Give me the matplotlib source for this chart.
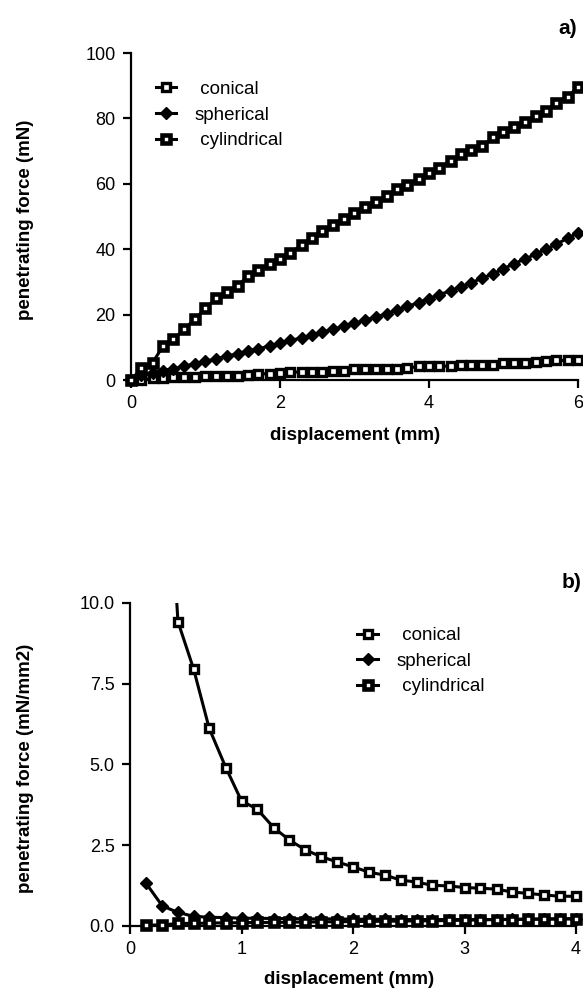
"""
Penetrating force vs displacement for three probe shapes.
a) force (mN), b) force per contact area (mN/mm2).

Output: out.png
"""
import matplotlib
matplotlib.use("Agg")
import matplotlib.pyplot as plt
from matplotlib.lines import Line2D
from matplotlib.ticker import FormatStrFormatter
import numpy as np

plt.rcParams["font.family"] = ["Liberation Sans", "DejaVu Sans"]

# a) penetrating force (mN)
disp_a = [0.00, 0.14, 0.29, 0.43, 0.57, 0.71, 0.86, 1.00, 1.14, 1.29, 1.43,
          1.57, 1.71, 1.86, 2.00, 2.14, 2.29, 2.43, 2.57, 2.71, 2.86, 3.00,
          3.14, 3.29, 3.43, 3.57, 3.71, 3.86, 4.00, 4.14, 4.29, 4.43, 4.57,
          4.71, 4.86, 5.00, 5.14, 5.29, 5.43, 5.57, 5.71, 5.86, 6.00]
conical_a = [0.0, 0.0, 0.6, 0.6, 0.8, 0.8, 1.0, 1.1, 1.2, 1.2, 1.3, 1.6, 1.8,
             2.0, 2.1, 2.4, 2.5, 2.6, 2.6, 2.7, 2.8, 3.3, 3.4, 3.4, 3.5, 3.4,
             3.6, 4.2, 4.2, 4.3, 4.2, 4.5, 4.6, 4.5, 4.7, 5.2, 5.3, 5.3, 5.4,
             5.8, 6.0, 6.0, 6.1]
spherical_a = [0.0, 1.6, 2.3, 2.9, 3.5, 4.2, 5.0, 5.7, 6.5, 7.3, 8.1, 8.9,
               9.6, 10.4, 11.2, 12.1, 12.9, 13.8, 14.7, 15.6, 16.4, 17.3,
               18.3, 19.3, 20.3, 21.4, 22.5, 23.7, 24.9, 26.1, 27.3, 28.5,
               29.8, 31.1, 32.5, 34.0, 35.6, 37.0, 38.5, 40.0, 41.6, 43.3, 45.0]
cylindrical_a = [0.0, 3.6, 5.3, 10.4, 12.4, 15.5, 18.7, 21.9, 25.0, 26.8,
                 28.8, 31.8, 33.6, 35.4, 37.0, 39.0, 41.2, 43.3, 45.6, 47.3,
                 49.3, 51.2, 52.9, 54.5, 56.3, 58.5, 59.7, 61.6, 63.3, 64.8,
                 67.0, 69.0, 70.3, 71.6, 74.2, 75.8, 77.4, 79.0, 80.6, 82.2,
                 84.8, 86.7, 89.5]

# b) penetrating force per area (mN/mm2)
disp_b = [0.14, 0.29, 0.43, 0.57, 0.71, 0.86, 1.00, 1.14, 1.29, 1.43, 1.57,
          1.71, 1.86, 2.00, 2.14, 2.29, 2.43, 2.57, 2.71, 2.86, 3.00, 3.14,
          3.29, 3.43, 3.57, 3.71, 3.86, 4.00]
conical_b = [35.0, 17.3, 9.42, 7.96, 6.12, 4.90, 3.87, 3.62, 3.04, 2.66, 2.36,
             2.15, 1.98, 1.83, 1.67, 1.57, 1.42, 1.36, 1.26, 1.24, 1.19, 1.17,
             1.14, 1.05, 1.01, 0.96, 0.92, 0.92]
spherical_b = [1.34, 0.62, 0.42, 0.30, 0.27, 0.26, 0.24, 0.24, 0.23, 0.23,
               0.22, 0.22, 0.22, 0.21, 0.21, 0.21, 0.20, 0.20, 0.20, 0.20,
               0.20, 0.20, 0.20, 0.21, 0.21, 0.21, 0.22, 0.22]
cylindrical_b = [0.03, 0.03, 0.08, 0.08, 0.09, 0.10, 0.10, 0.11, 0.11, 0.12,
                 0.12, 0.13, 0.13, 0.14, 0.14, 0.15, 0.15, 0.16, 0.16, 0.17,
                 0.18, 0.19, 0.20, 0.20, 0.21, 0.22, 0.22, 0.23]

labels = [" conical", "spherical", " cylindrical"]
xticks_a = [0, 2, 4, 6]
yticks_a = [0, 20, 40, 60, 80, 100]
xticks_b = [0, 1, 2, 3, 4]
yticks_b = [0.0, 2.5, 5.0, 7.5, 10.0]

STYLES = [
    dict(marker="s", ms=5.5, mfc="white", mec="black", mew=2.4),
    dict(marker="D", ms=6.5, mfc="black", mec="black", mew=1.0),
    dict(marker="s", ms=5.8, mfc="white", mec="black", mew=3.3),
]
LW = 2.2


def draw(ax, x, series, xlim, ylim, xticks, yticks):
    x = np.asarray(x)
    for y, st in zip(series, STYLES):
        y = np.asarray(y)
        ax.plot(x, y, color="black", lw=LW, zorder=2)
        keep = (y >= ylim[0]) & (y <= ylim[1])
        ax.plot(x[keep], y[keep], ls="none", clip_on=False, zorder=3, **st)
    ax.set_xlim(*xlim)
    ax.set_ylim(*ylim)
    ax.set_xticks(xticks)
    ax.set_yticks(yticks)
    for s in ("top", "right"):
        ax.spines[s].set_visible(False)
    for s in ("left", "bottom"):
        ax.spines[s].set_linewidth(1.6)
    ax.tick_params(direction="out", length=6, width=1.6, labelsize=13, pad=5)


def add_legend(ax, anchor):
    handles = [Line2D([], [], color="black", lw=LW, **st) for st in STYLES]
    ax.legend(handles, labels, loc="upper left", bbox_to_anchor=anchor,
              frameon=False, fontsize=13.5, handlelength=1.1,
              handletextpad=1.0, labelspacing=0.45, borderaxespad=0,
              borderpad=0)


fig = plt.figure(figsize=(5.83, 9.91), dpi=100)

ax1 = fig.add_axes([0.2247, 0.6165, 0.7667, 0.33])
draw(ax1, disp_a, [conical_a, spherical_a, cylindrical_a],
     (0, 6), (0, 100), xticks_a, yticks_a)
add_legend(ax1, (0.055, 0.915))

ax2 = fig.add_axes([0.223, 0.0656, 0.765, 0.326])
draw(ax2, disp_b, [conical_b, spherical_b, cylindrical_b],
     (0, 4), (0, 10), xticks_b, yticks_b)
ax2.yaxis.set_major_formatter(FormatStrFormatter("%.1f"))
add_legend(ax2, (0.51, 0.925))

W, H = 583, 991
bold = dict(fontweight="bold", fontsize=13.5, ha="center", va="center")
fig.text(25.5 / W, 1 - 220 / H, "penetrating force (mN)", rotation=90, **bold)
fig.text(355 / W, 1 - 435 / H, "displacement (mm)", **bold)
fig.text(25.5 / W, 1 - 768 / H, "penetrating force (mN/mm2)", rotation=90, **bold)
fig.text(349 / W, 1 - 980 / H, "displacement (mm)", **bold)
fig.text(577 / W, 1 - 28 / H, "a)", fontweight="bold", fontsize=15,
         ha="right", va="center")
fig.text(581 / W, 1 - 583 / H, "b)", fontweight="bold", fontsize=15,
         ha="right", va="center")

fig.savefig("out.png", dpi=100)
plt.close(fig)
